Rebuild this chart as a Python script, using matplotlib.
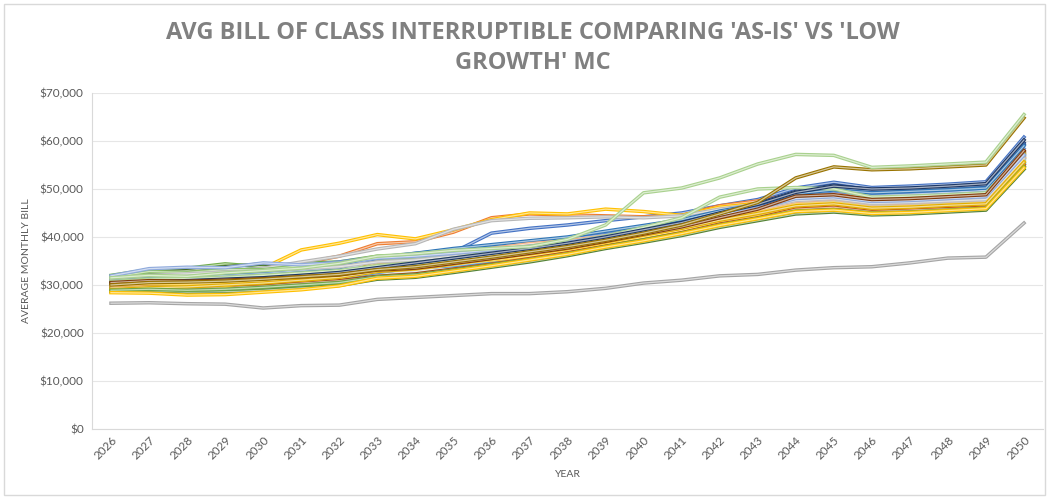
import matplotlib
matplotlib.use("Agg")
import matplotlib.pyplot as plt
from matplotlib.ticker import FuncFormatter, MultipleLocator
from matplotlib.patches import Rectangle
from matplotlib.colors import to_rgb

years = list(range(2026, 2051))

# average monthly bill per simulation run, in $ thousands
runs = [
    ("#C9C9C9", [29.3, 29.6, 29.5, 29.8, 30.1, 30.7, 31.2, 32.3, 32.8, 33.8, 34.9, 36.0, 37.1, 38.5, 39.9, 41.3, 43.0, 44.5, 46.0, 46.4, 45.5, 45.7, 46.1, 46.4, 55.1]),
    ("#4472C4", [31.8, 32.5, 32.8, 33.0, 33.4, 33.8, 34.3, 35.0, 35.5, 36.8, 40.8, 41.8, 42.5, 43.4, 44.2, 45.0, 46.5, 47.8, 50.2, 51.4, 50.3, 50.6, 51.0, 51.5, 60.8]),
    ("#ED7D31", [31.0, 31.5, 31.8, 32.2, 33.0, 34.5, 36.0, 38.6, 39.0, 41.0, 44.0, 44.8, 44.6, 44.4, 44.2, 44.5, 46.5, 47.5, 49.0, 49.2, 47.5, 47.8, 48.0, 48.4, 57.5]),
    ("#A5A5A5", [26.2, 26.3, 26.1, 26.0, 25.2, 25.7, 25.8, 27.0, 27.4, 27.8, 28.2, 28.2, 28.6, 29.3, 30.4, 31.0, 31.9, 32.2, 33.1, 33.6, 33.8, 34.6, 35.6, 35.8, 42.9]),
    ("#FFC000", [30.5, 31.0, 31.5, 32.5, 33.5, 37.3, 38.7, 40.5, 39.6, 41.5, 43.6, 45.0, 44.8, 45.8, 45.3, 44.5, 46.2, 47.0, 48.5, 48.5, 47.0, 47.2, 47.5, 47.8, 56.5]),
    ("#5B9BD5", [29.5, 30.6, 29.7, 30.8, 30.3, 31.5, 31.3, 32.6, 33.6, 34.0, 35.0, 36.2, 37.4, 38.8, 40.3, 41.6, 43.2, 44.6, 46.2, 46.6, 45.6, 45.9, 46.2, 46.5, 55.2]),
    ("#70AD47", [32.0, 33.2, 33.5, 34.4, 33.8, 34.5, 34.8, 36.0, 36.2, 36.8, 37.4, 38.3, 39.0, 40.0, 41.0, 42.0, 43.5, 45.0, 46.3, 46.8, 45.8, 46.0, 46.4, 46.7, 55.5]),
    ("#264478", [30.2, 30.6, 30.8, 30.5, 31.0, 31.8, 32.5, 34.8, 35.8, 36.5, 37.8, 38.6, 39.4, 40.8, 41.8, 43.0, 45.2, 47.0, 49.5, 50.8, 49.8, 50.0, 50.4, 50.9, 59.6]),
    ("#9E480E", [29.0, 29.2, 29.3, 29.5, 29.8, 30.4, 30.9, 31.8, 32.3, 33.3, 34.3, 35.3, 36.5, 38.0, 39.3, 40.8, 42.6, 44.4, 47.0, 48.6, 47.6, 47.9, 48.2, 48.8, 57.8]),
    ("#636363", [30.8, 31.2, 31.3, 31.5, 31.8, 32.3, 32.8, 33.8, 34.2, 35.2, 36.2, 37.2, 38.2, 39.6, 41.0, 42.4, 44.0, 45.5, 47.2, 47.6, 46.6, 46.8, 47.2, 47.6, 56.4]),
    ("#255E91", [29.8, 30.2, 31.3, 30.6, 31.9, 31.4, 32.9, 33.0, 33.5, 34.5, 35.5, 36.6, 37.7, 39.0, 40.5, 42.0, 43.8, 45.4, 47.8, 48.2, 47.2, 47.4, 47.8, 48.2, 57.0]),
    ("#43682B", [31.5, 32.6, 33.0, 33.8, 34.4, 33.8, 34.0, 35.2, 35.5, 36.0, 36.4, 37.0, 37.8, 38.8, 40.0, 41.2, 42.6, 44.0, 45.5, 45.8, 45.0, 45.2, 45.6, 46.0, 54.6]),
    ("#698ED0", [31.2, 31.8, 32.2, 32.8, 33.4, 34.0, 34.8, 35.8, 36.6, 37.3, 38.2, 38.9, 39.5, 40.5, 41.6, 42.8, 44.6, 46.2, 48.8, 49.6, 48.6, 48.9, 49.3, 49.7, 58.4]),
    ("#F1975A", [30.4, 30.8, 30.6, 30.9, 31.0, 31.6, 32.0, 33.0, 33.4, 34.4, 35.6, 36.6, 37.8, 39.2, 40.8, 42.2, 43.9, 45.2, 47.6, 48.2, 47.4, 47.6, 48.0, 48.3, 57.2]),
    ("#B7B7B7", [31.0, 31.8, 32.2, 32.8, 33.5, 34.8, 36.0, 37.5, 38.6, 41.6, 43.4, 43.9, 44.0, 44.2, 44.0, 44.4, 45.8, 46.8, 48.5, 48.8, 47.3, 47.5, 47.8, 48.1, 56.8]),
    ("#FFCD33", [29.2, 29.5, 30.4, 29.8, 31.2, 31.0, 31.6, 33.8, 34.0, 34.6, 35.2, 36.0, 37.2, 38.7, 40.0, 41.4, 43.0, 44.3, 46.0, 46.4, 45.5, 45.7, 46.0, 46.3, 55.0]),
    ("#7CAFDD", [30.0, 30.5, 30.9, 31.4, 31.9, 32.6, 33.4, 34.5, 35.4, 36.2, 37.2, 38.0, 38.8, 40.0, 41.3, 42.6, 44.4, 45.8, 47.5, 48.0, 47.0, 47.2, 47.6, 48.0, 56.7]),
    ("#8CC168", [31.6, 32.8, 32.6, 33.2, 33.2, 34.0, 34.6, 35.6, 35.8, 36.4, 37.0, 37.8, 38.6, 39.8, 41.0, 42.3, 44.0, 45.4, 47.0, 47.4, 46.4, 46.6, 47.0, 47.3, 56.0]),
    ("#335AA1", [29.6, 30.0, 30.1, 30.4, 30.8, 31.6, 32.2, 33.6, 34.4, 35.6, 36.6, 37.4, 38.4, 39.6, 40.8, 42.2, 44.2, 46.0, 48.8, 50.2, 49.6, 49.9, 50.3, 50.8, 59.3]),
    ("#C55A11", [28.8, 28.9, 28.7, 28.9, 29.3, 29.8, 30.3, 31.6, 32.0, 33.2, 34.3, 35.5, 36.7, 38.1, 39.4, 40.9, 42.7, 44.0, 45.8, 46.2, 45.3, 45.6, 45.9, 46.2, 55.0]),
    ("#848484", [30.6, 31.0, 30.9, 31.1, 31.3, 31.9, 32.4, 33.4, 33.9, 34.9, 35.9, 37.0, 38.1, 39.5, 40.9, 42.3, 44.0, 45.5, 47.4, 48.4, 47.7, 48.0, 48.3, 48.7, 57.5]),
    ("#CC9A00", [29.4, 29.7, 29.8, 30.2, 30.6, 31.4, 32.2, 34.6, 35.0, 35.5, 36.3, 37.3, 38.3, 39.6, 40.9, 42.2, 44.0, 45.6, 48.0, 48.6, 47.8, 48.0, 48.4, 48.8, 57.4]),
    ("#2E75B6", [30.9, 31.4, 31.6, 32.0, 32.4, 33.0, 33.6, 35.6, 36.6, 37.6, 38.4, 39.2, 40.0, 41.2, 42.4, 43.6, 45.4, 46.8, 49.0, 49.8, 49.2, 49.5, 49.8, 50.2, 59.0]),
    ("#548235", [28.6, 28.8, 28.5, 28.6, 28.9, 29.4, 29.9, 31.2, 31.6, 32.6, 33.7, 34.8, 36.1, 37.6, 38.9, 40.3, 42.0, 43.4, 44.8, 45.2, 44.6, 44.8, 45.2, 45.6, 54.1]),
    ("#9DC3E6", [30.2, 30.6, 30.8, 31.2, 31.6, 32.2, 32.7, 33.7, 34.2, 35.2, 36.2, 37.2, 38.3, 39.7, 41.1, 42.5, 44.2, 45.7, 47.3, 47.7, 46.7, 46.9, 47.3, 47.6, 56.2]),
    ("#F4B183", [29.9, 30.3, 30.4, 30.7, 31.1, 31.8, 32.6, 34.0, 34.8, 36.0, 37.6, 38.6, 39.2, 40.2, 41.3, 42.5, 44.1, 45.6, 47.4, 47.9, 46.9, 47.1, 47.5, 47.8, 56.5]),
    ("#BFBFBF", [31.4, 32.0, 32.3, 32.7, 33.0, 33.4, 33.8, 34.8, 35.2, 36.0, 36.8, 37.6, 38.5, 39.8, 41.2, 42.7, 44.4, 46.0, 47.6, 48.0, 47.0, 47.2, 47.5, 47.8, 56.3]),
    ("#FFD966", [30.1, 30.4, 30.3, 30.5, 30.8, 31.3, 31.8, 32.9, 33.3, 34.3, 35.4, 36.4, 37.5, 38.9, 40.4, 41.9, 43.6, 45.0, 46.7, 47.1, 46.1, 46.3, 46.7, 47.0, 55.7]),
    ("#A9D18E", [30.7, 31.2, 31.3, 31.6, 32.0, 32.5, 33.0, 34.0, 34.6, 35.6, 36.8, 37.8, 38.8, 40.2, 42.0, 44.0, 48.3, 50.0, 50.3, 50.0, 48.3, 48.5, 48.8, 49.2, 57.2]),
    ("#8FAADC", [31.9, 33.4, 33.7, 33.6, 34.6, 34.2, 34.6, 35.6, 36.0, 36.6, 37.3, 38.1, 38.9, 40.0, 41.3, 42.6, 44.5, 46.0, 48.0, 48.4, 47.4, 47.6, 48.0, 48.4, 57.1]),
    ("#1F3864", [30.3, 30.7, 30.9, 31.2, 31.5, 32.0, 32.6, 33.6, 34.6, 35.6, 36.6, 37.6, 38.7, 40.0, 41.5, 43.0, 45.0, 46.8, 49.3, 50.6, 50.0, 50.2, 50.6, 51.1, 60.2]),
    ("#E2AC00", [29.0, 29.4, 29.6, 30.0, 30.4, 31.0, 31.6, 32.8, 33.4, 34.4, 35.5, 36.5, 37.6, 39.0, 40.4, 41.8, 43.5, 44.9, 46.5, 46.9, 46.0, 46.2, 46.6, 46.9, 55.6]),
    ("#833C0B", [30.5, 30.9, 30.8, 31.0, 31.3, 31.7, 32.1, 33.1, 33.5, 34.5, 35.5, 36.6, 37.7, 39.1, 40.6, 42.1, 44.0, 45.8, 48.5, 48.8, 47.8, 48.0, 48.4, 48.8, 58.0]),
    ("#6FA648", [28.9, 29.1, 28.9, 29.1, 29.5, 30.0, 30.5, 31.7, 32.1, 33.1, 34.2, 35.3, 36.5, 38.0, 39.4, 40.8, 42.5, 43.9, 45.4, 45.7, 45.0, 45.2, 45.6, 46.0, 54.6]),
    ("#FFC000", [28.4, 28.3, 27.9, 28.0, 28.5, 29.0, 29.8, 31.4, 31.8, 32.9, 34.0, 35.2, 36.4, 37.9, 39.2, 40.7, 42.4, 43.8, 45.3, 45.6, 44.9, 45.1, 45.5, 45.9, 54.4]),
    ("#997300", [30.0, 30.5, 30.6, 30.8, 31.2, 31.7, 32.2, 33.2, 33.8, 34.8, 35.8, 36.9, 38.0, 39.3, 40.8, 42.5, 44.8, 47.2, 52.3, 54.6, 54.0, 54.2, 54.6, 55.0, 64.8]),
    ("#A9D18E", [31.5, 32.0, 31.8, 32.5, 33.0, 33.5, 34.5, 36.0, 36.5, 37.2, 37.6, 38.0, 39.5, 42.5, 49.2, 50.2, 52.3, 55.2, 57.2, 57.0, 54.5, 54.8, 55.2, 55.6, 65.5]),
]

title = "AVG BILL OF CLASS INTERRUPTIBLE COMPARING 'AS-IS' VS 'LOW\nGROWTH' MC"
text_grey = "#595959"


def lighten(c, f=0.6):
    r, g, b = to_rgb(c)
    return (r + (1 - r) * f, g + (1 - g) * f, b + (1 - b) * f)


fig = plt.figure(figsize=(10.49, 4.98), dpi=100)
ax = fig.add_axes([0.0877, 0.1386, 0.9066, 0.6747])

xs = list(range(len(years)))
for color, vals in runs:
    dollars = [v * 1000 for v in vals]
    # excel "double" line look: outer stroke + pale core
    ax.plot(xs, dollars, color=color, lw=2.5, solid_joinstyle="round", zorder=2)
    ax.plot(xs, dollars, color=lighten(color), lw=0.9, solid_joinstyle="round", zorder=2)

ax.set_xlim(-0.5, len(years) - 0.5)
ax.set_ylim(0, 70000)
ax.yaxis.set_major_locator(MultipleLocator(10000))
ax.yaxis.set_major_formatter(FuncFormatter(lambda v, p: "${:,.0f}".format(v)))
ax.set_xticks(xs)
ax.set_xticklabels([str(y) for y in years], rotation=45, ha="right",
                   rotation_mode="anchor", fontsize=8.5, color=text_grey, family="Lato")
for lab in ax.get_yticklabels():
    lab.set_fontsize(8.5)
    lab.set_color(text_grey)
    lab.set_family("Lato")
ax.tick_params(length=0, pad=6)
ax.tick_params(axis="x", pad=4)
ax.grid(axis="y", color="#E6E6E6", lw=0.8)
ax.set_axisbelow(True)
for s in ["top", "right"]:
    ax.spines[s].set_visible(False)
for s in ["left", "bottom"]:
    ax.spines[s].set_color("#D9D9D9")
    ax.spines[s].set_linewidth(0.8)

ax.set_ylabel("AVERAGE MONTHLY BILL", fontsize=7.5, color=text_grey, family="Lato", labelpad=6)
ax.set_xlabel("YEAR", fontsize=7.5, color=text_grey, family="Lato", labelpad=6)

fig.text(0.508, 0.903, title, ha="center", va="center", fontsize=17,
         fontweight="bold", color="#808080", family="Open Sans", linespacing=1.35)

fig.patches.append(Rectangle((0.004, 0.006), 0.992, 0.986, transform=fig.transFigure,
                             fill=False, edgecolor="#D9D9D9", lw=1))

fig.savefig("out.png", dpi=100)
